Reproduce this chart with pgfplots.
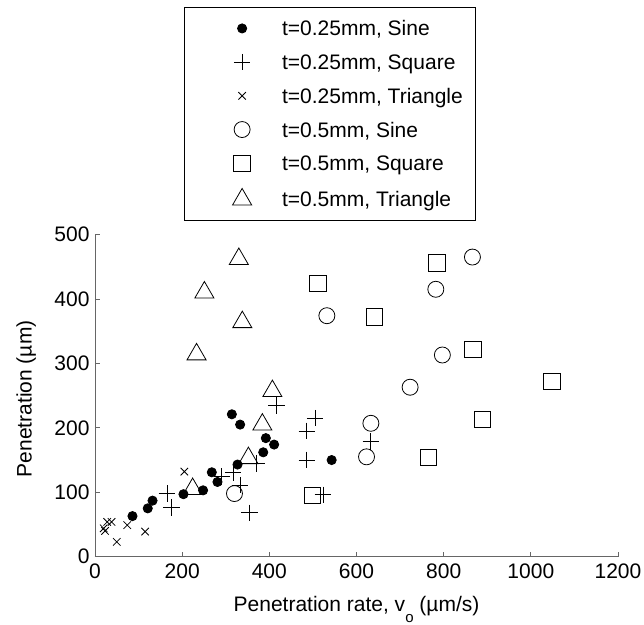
\documentclass[border=0pt]{standalone}
\usepackage{fontspec}
\setmainfont{Liberation Sans}
\usepackage{pgfplots}
\pgfplotsset{compat=1.18}

\begin{document}
\begin{tikzpicture}
\begin{axis}[
  name=ax,
  scale only axis,
  width=523bp, height=322.2bp,
  xmin=0, xmax=1200, ymin=0, ymax=500,
  axis x line*=bottom, axis y line*=left,
  axis line style={black!60, line width=0.8bp, -},
  xtick={0,200,...,1200}, ytick={0,100,...,500},
  tick align=inside,
  major tick length=5bp,
  tick style={black!60, line width=0.8bp},
  /pgf/number format/assume math mode=true,
  /pgf/number format/set thousands separator={},
  ticklabel style={font=\fontsize{21bp}{25bp}\selectfont},
  xticklabel style={yshift=-4bp},
  yticklabel style={xshift=-2bp},
  xlabel={Penetration rate, v\raisebox{-10.5bp}{\fontsize{15bp}{15bp}\selectfont o} (µm/s)},
  xlabel style={at={(axis description cs:0.5,-0.1707)}, anchor=base, font=\fontsize{21bp}{25bp}\selectfont},
  ylabel={Penetration (µm)},
  ylabel style={at={(axis description cs:-0.121,0.49)}, anchor=base, font=\fontsize{21bp}{25bp}\selectfont},
  legend style={
    at={(axis description cs:0.4493,1.706)}, anchor=north,
    draw=black, line width=0.8bp,
    font=\fontsize{21bp}{25bp}\selectfont,
    inner xsep=13bp, inner ysep=12.5bp,
    row sep=16.7bp, column sep=0pt,
    nodes={inner sep=0pt, text height=16bp, text depth=1bp},
  },
  legend cell align=left,
  legend image code/.code={\path[draw=none] (-45bp,0bp) -- (40bp,0bp); \draw[#1] plot coordinates {(0bp,0bp)};},
  every axis plot/.append style={only marks, line width=0.8bp, black},
]
\addplot[mark=*, mark size=4.6bp, mark options={fill=black}] coordinates {
 (86,63) (121,75) (132,87) (203,97) (248,103) (268,131) (281,116) (314,221)
 (333,205) (327,143) (386,162) (392,184) (411,174) (543,150)};
\addlegendentry{t=0.25mm, Sine}
\addplot[mark=+, mark size=8.3bp] coordinates {
 (165,98) (176,76) (291,124) (317,131) (333,111) (354,68) (371,145) (417,235)
 (486,195) (505,215) (486,150) (523,96) (633,179)};
\addlegendentry{t=0.25mm, Square}
\addplot[mark=x, mark size=5.3bp] coordinates {
 (20,44) (23,40) (28,54) (38,54) (50,23) (74,49) (115,39) (205,132)};
\addlegendentry{t=0.25mm, Triangle}
\addplot[mark=o, mark size=8bp] coordinates {
 (320,98) (532,374) (623,155) (633,207) (723,263) (782,415) (797,313) (866,465)};
\addlegendentry{t=0.5mm, Sine}
\addplot[mark=square, mark size=8.3bp] coordinates {
 (499,95) (512,424) (641,372) (784,456) (765,154) (867,322) (889,213) (1049,272)};
\addlegendentry{t=0.5mm, Square}
\addplot[mark=triangle, mark size=11bp] coordinates {
 (224,105) (330,462) (251,410) (338,364) (233,314) (407,257) (384,205) (352,153)};
\addlegendentry{t=0.5mm, Triangle}
\end{axis}
\pgfresetboundingbox
\path (ax.south west) ++(-95bp,-68.3bp) rectangle ++(644bp,625bp);
\end{tikzpicture}
\end{document}
